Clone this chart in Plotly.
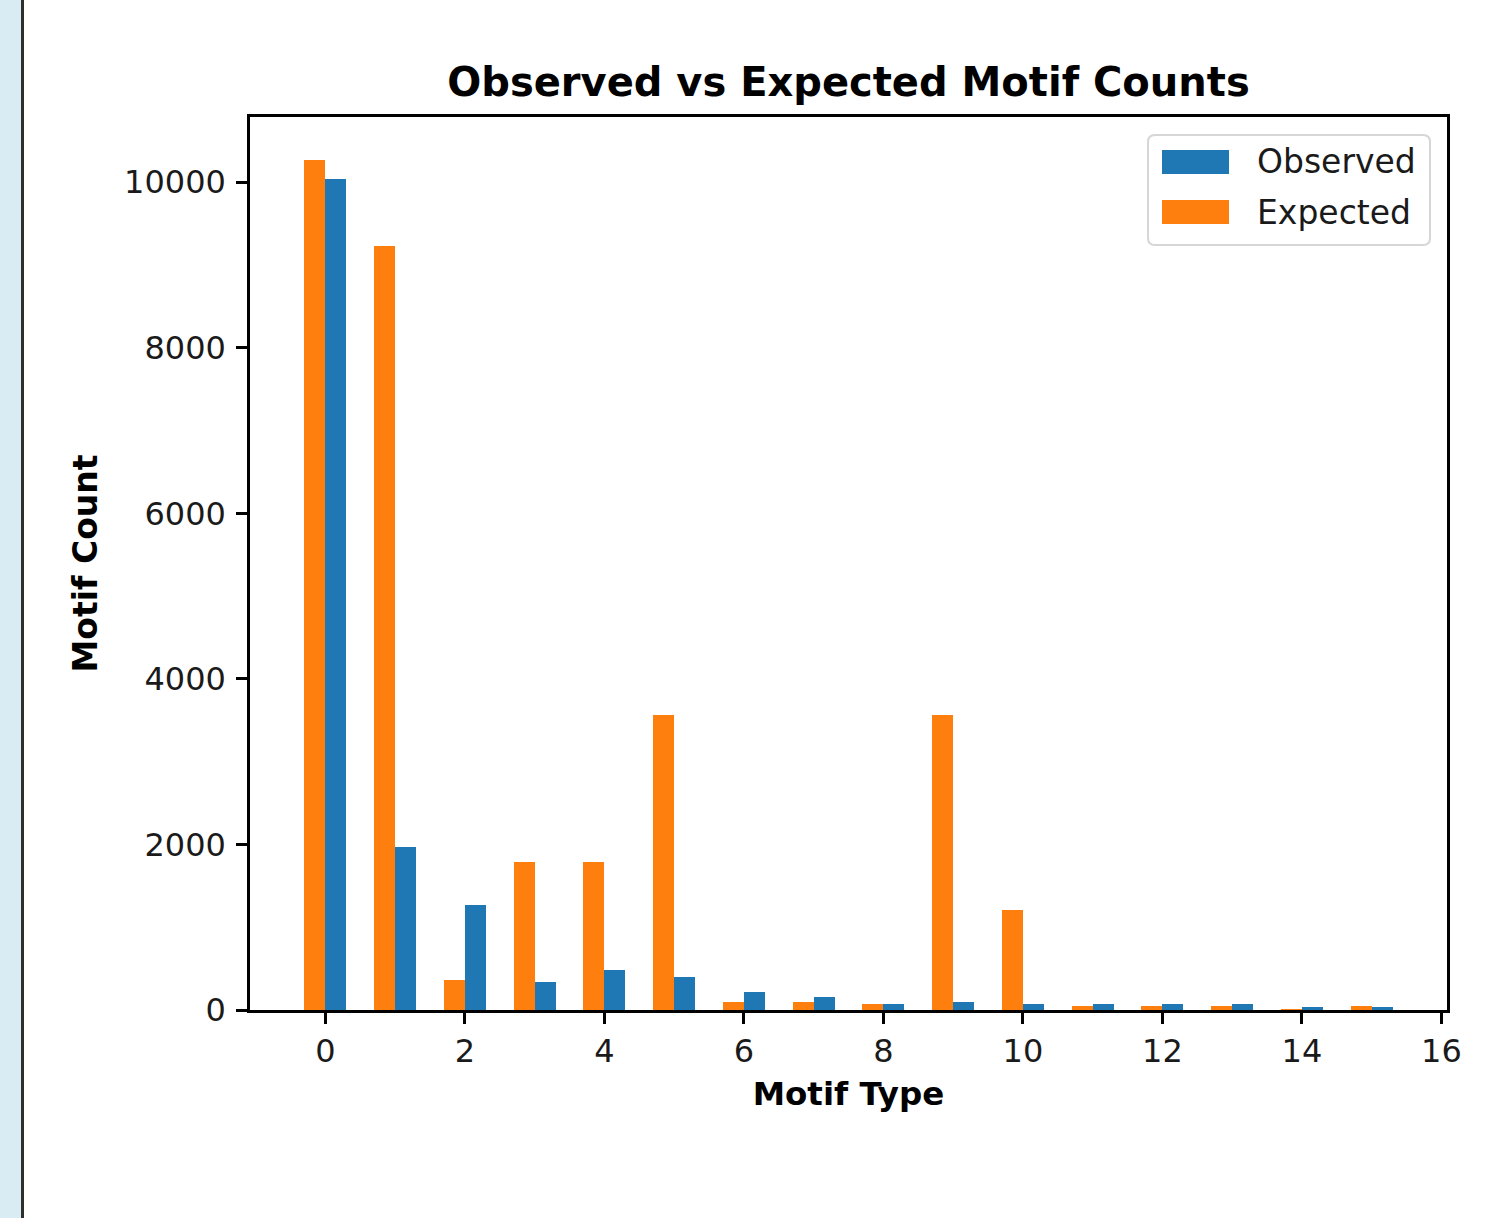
import plotly.graph_objects as go

# Motif counts per motif type
motif_types = list(range(16))
observed = [10040, 1965, 1265, 335, 483, 395, 215, 160, 75, 100, 70, 70, 70, 70, 40, 40]
expected = [10275, 9227, 363, 1793, 1793, 3566, 100, 100, 75, 3566, 1209, 45, 45, 45, 5, 45]

x_ticks = list(range(0, 17, 2))
y_ticks = list(range(0, 10001, 2000))
y_tick_labels = [str(v) for v in y_ticks]

BLUE = "#1f77b4"
ORANGE = "#ff7f0e"
FONT = "DejaVu Sans"

W, H = 1500, 1218
L, R, T, B = 250, 53, 117, 208
PW, PH = W - L - R, H - T - B


def px(x):
    return (x - L) / PW


def py(y):
    return (H - B - y) / PH


fig = go.Figure()
fig.add_trace(go.Bar(x=motif_types, y=observed, width=0.3, offset=0.0,
                     marker=dict(color=BLUE, line=dict(width=0)),
                     name="Observed", showlegend=False))
fig.add_trace(go.Bar(x=motif_types, y=expected, width=0.3, offset=-0.3,
                     marker=dict(color=ORANGE, line=dict(width=0)),
                     name="Expected", showlegend=False))

ymax = max(max(observed), max(expected)) * 1.05

axis_common = dict(
    showline=True, mirror=True, linecolor="black", linewidth=2.5,
    ticks="outside", ticklen=11, tickwidth=2.5, tickcolor="black",
    showgrid=False, zeroline=False,
    tickfont=dict(family=FONT, size=32, color="#1a1a1a"),
)

fig.update_layout(
    width=W, height=H,
    margin=dict(l=L, r=R, t=T, b=B, pad=0),
    paper_bgcolor="white", plot_bgcolor="white",
    barmode="overlay",
    bargap=0,
    title=dict(text="<b>Observed vs Expected Motif Counts</b>",
               font=dict(family=FONT, size=40, color="black"),
               x=px(848.5), xref="paper", xanchor="center",
               y=1 - 82 / H, yref="container", yanchor="middle"),
    xaxis=dict(range=[-1.08, 16.08], tickvals=x_ticks, ticklabelstandoff=0,
               title=dict(text="<b>Motif Type</b>", standoff=14,
                          font=dict(family=FONT, size=32.5, color="black")),
               **axis_common),
    yaxis=dict(range=[0, ymax], tickvals=y_ticks, ticktext=y_tick_labels,
               ticklabelstandoff=4,
               title=dict(text="<b>Motif Count</b>", standoff=17,
                          font=dict(family=FONT, size=33, color="black")),
               **axis_common),
)

shapes = []
# light side strip with a dark rule along its edge
shapes.append(dict(type="rect", xref="paper", yref="paper",
                   x0=px(0), x1=px(21), y0=py(H), y1=py(0),
                   fillcolor="#d9ecf3", line=dict(width=0), layer="below"))
shapes.append(dict(type="line", xref="paper", yref="paper",
                   x0=px(22.5), x1=px(22.5), y0=py(H), y1=py(0),
                   line=dict(color="#2e2e2e", width=3)))

# legend frame with rounded corners
lx0, lx1, ly0, ly1, r = 1148, 1430, 135, 245, 7
path = (f"M {px(lx0 + r)},{py(ly0)} L {px(lx1 - r)},{py(ly0)} "
        f"Q {px(lx1)},{py(ly0)} {px(lx1)},{py(ly0 + r)} "
        f"L {px(lx1)},{py(ly1 - r)} Q {px(lx1)},{py(ly1)} {px(lx1 - r)},{py(ly1)} "
        f"L {px(lx0 + r)},{py(ly1)} Q {px(lx0)},{py(ly1)} {px(lx0)},{py(ly1 - r)} "
        f"L {px(lx0)},{py(ly0 + r)} Q {px(lx0)},{py(ly0)} {px(lx0 + r)},{py(ly0)} Z")
shapes.append(dict(type="path", xref="paper", yref="paper", path=path,
                   fillcolor="rgba(255,255,255,0.8)",
                   line=dict(color="#d6d6d6", width=2)))

legend_items = [("Observed", BLUE, 162), ("Expected", ORANGE, 212)]
annotations = []
for label, color, cy in legend_items:
    shapes.append(dict(type="rect", xref="paper", yref="paper",
                       x0=px(1162), x1=px(1229), y0=py(cy + 12), y1=py(cy - 12),
                       fillcolor=color, line=dict(width=0)))
    annotations.append(dict(text=label, xref="paper", yref="paper",
                            x=px(1255), y=py(cy), xanchor="left", yanchor="middle",
                            showarrow=False,
                            font=dict(family=FONT, size=33, color="#1a1a1a")))

fig.update_layout(shapes=shapes, annotations=annotations)

fig.write_html("out.html")
